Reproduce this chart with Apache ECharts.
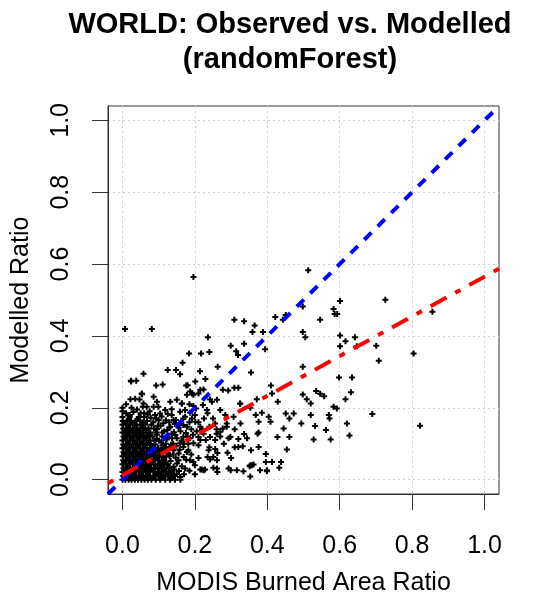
<!DOCTYPE html>
<html>
<head>
<meta charset="utf-8">
<script src="https://cdn.jsdelivr.net/npm/echarts@6/dist/echarts.min.js"></script>
<style>html,body{margin:0;padding:0;background:#fff}#c{width:541px;height:596px}</style>
</head>
<body>
<div id="c"></div>
<script>
var titleLines = ['WORLD: Observed vs. Modelled', '(randomForest)'];
var xName = 'MODIS Burned Area Ratio';
var yName = 'Modelled Ratio';
var tickValues = [0, 0.2, 0.4, 0.6, 0.8, 1.0];
var axisRange = [-0.04, 1.04];

// 1:1 reference line (blue) and fitted line (red), endpoints at plot edges
var oneToOneLine = [[-0.04, -0.04], [1.04, 1.04]];
var fitLine = [[-0.04, -0.010], [1.04, 0.587]];

// dense core of observations (observed, modelled)
var corePoints = [
[0.000,0.000],[0.008,0.000],[0.017,0.000],[0.025,0.000],[0.034,0.000],[0.043,0.000],[0.052,0.000],[0.061,0.000],[0.070,0.000],[0.080,0.000],[0.092,0.000],[0.104,0.000],[0.118,0.000],[0.131,0.000],[0.145,0.000],[0.160,0.000],
[0.002,0.010],[0.011,0.010],[0.020,0.010],[0.029,0.010],[0.038,0.010],[0.047,0.010],[0.057,0.010],[0.066,0.010],[0.076,0.010],[0.087,0.010],[0.099,0.010],[0.112,0.010],[0.126,0.010],[0.141,0.010],
[0.000,0.021],[0.009,0.021],[0.018,0.021],[0.027,0.021],[0.036,0.021],[0.046,0.021],[0.055,0.021],[0.064,0.021],[0.074,0.021],[0.085,0.021],[0.097,0.021],[0.110,0.021],[0.122,0.021],[0.137,0.021],
[0.003,0.032],[0.012,0.032],[0.021,0.032],[0.031,0.032],[0.040,0.032],[0.049,0.032],[0.059,0.032],[0.068,0.032],[0.079,0.032],[0.090,0.032],[0.102,0.032],[0.116,0.032],[0.129,0.032],
[0.000,0.043],[0.009,0.043],[0.018,0.043],[0.028,0.043],[0.037,0.043],[0.046,0.043],[0.056,0.043],[0.065,0.043],[0.075,0.043],[0.086,0.043],[0.097,0.043],[0.109,0.043],[0.124,0.043],
[0.002,0.054],[0.011,0.054],[0.021,0.054],[0.030,0.054],[0.039,0.054],[0.049,0.054],[0.058,0.054],[0.068,0.054],[0.078,0.054],[0.089,0.054],[0.101,0.054],[0.115,0.054],
[0.000,0.065],[0.009,0.065],[0.018,0.065],[0.027,0.065],[0.037,0.065],[0.046,0.065],[0.055,0.065],[0.065,0.065],[0.075,0.065],[0.085,0.065],[0.096,0.065],[0.108,0.065],[0.121,0.065],
[0.003,0.076],[0.012,0.076],[0.021,0.076],[0.031,0.076],[0.040,0.076],[0.050,0.076],[0.059,0.076],[0.069,0.076],[0.079,0.076],[0.090,0.076],[0.103,0.076],
[0.000,0.087],[0.009,0.087],[0.019,0.087],[0.028,0.087],[0.037,0.087],[0.047,0.087],[0.056,0.087],[0.066,0.087],[0.076,0.087],[0.087,0.087],[0.098,0.087],[0.112,0.087],
[0.002,0.098],[0.011,0.098],[0.020,0.098],[0.030,0.098],[0.039,0.098],[0.048,0.098],[0.058,0.098],[0.067,0.098],[0.078,0.098],[0.091,0.098],
[0.000,0.109],[0.010,0.109],[0.019,0.109],[0.028,0.109],[0.038,0.109],[0.047,0.109],[0.057,0.109],[0.066,0.109],[0.076,0.109],[0.088,0.109],[0.101,0.109],
[0.003,0.120],[0.012,0.120],[0.022,0.120],[0.031,0.120],[0.041,0.120],[0.050,0.120],[0.060,0.120],[0.070,0.120],[0.083,0.120],
[0.000,0.131],[0.009,0.131],[0.018,0.131],[0.028,0.131],[0.037,0.131],[0.046,0.131],[0.056,0.131],[0.066,0.131],[0.077,0.131],[0.093,0.131],
[0.002,0.142],[0.012,0.142],[0.021,0.142],[0.031,0.142],[0.040,0.142],[0.050,0.142],[0.061,0.142],[0.072,0.142],[0.087,0.142],
[0.000,0.153],[0.010,0.153],[0.019,0.153],[0.029,0.153],[0.039,0.153],[0.050,0.153],[0.063,0.153],[0.080,0.153],
[0.001,0.163],[0.013,0.163],[0.024,0.163],[0.036,0.163],[0.049,0.163],[0.068,0.163],
[0.000,0.174],[0.020,0.174],[0.045,0.174],[0.060,0.174],
[0.005,0.005],[0.014,0.015],[0.024,0.005],[0.033,0.015],[0.043,0.005],[0.052,0.015],[0.062,0.005],[0.071,0.015],[0.081,0.005],[0.093,0.015],
[0.005,0.027],[0.015,0.037],[0.025,0.027],[0.035,0.037],[0.044,0.027],[0.054,0.037],[0.064,0.027],[0.073,0.037],[0.083,0.027],[0.095,0.037],
[0.005,0.049],[0.015,0.059],[0.025,0.049],[0.035,0.059],[0.044,0.049],[0.054,0.059],[0.063,0.049],[0.073,0.059],[0.083,0.049],[0.094,0.060],
[0.005,0.071],[0.016,0.081],[0.026,0.071],[0.035,0.081],[0.045,0.071],[0.054,0.081],[0.064,0.071],[0.074,0.081],[0.084,0.071],[0.096,0.082],
[0.006,0.093],[0.016,0.103],[0.025,0.093],[0.035,0.103],[0.044,0.093],[0.053,0.103],[0.063,0.093],[0.072,0.103],[0.083,0.093],
[0.006,0.115],[0.016,0.125],[0.026,0.115],[0.036,0.125],[0.045,0.115],[0.055,0.125],[0.064,0.115],[0.075,0.125],
[0.006,0.136],[0.016,0.147],[0.026,0.136],[0.036,0.147],[0.045,0.136],[0.056,0.147],[0.066,0.138],
[0.006,0.158],[0.017,0.168],[0.030,0.158],[0.042,0.168],[0.056,0.160],
[0.108,0.006],[0.121,0.015],[0.135,0.004],[0.150,0.016],[0.114,0.027],[0.128,0.034],[0.143,0.028],[0.156,0.024],
[0.107,0.038],[0.119,0.046],[0.133,0.052],[0.147,0.061],[0.112,0.062],[0.126,0.074],[0.140,0.070],[0.158,0.083],
[0.106,0.083],[0.118,0.091],[0.134,0.098],[0.149,0.094],[0.107,0.104],[0.122,0.112],[0.137,0.115],[0.163,0.108],
[0.095,0.113],[0.110,0.131],[0.124,0.138],[0.142,0.132],[0.098,0.150],[0.113,0.157],[0.129,0.160],[0.155,0.145],
[0.078,0.172],[0.093,0.170],[0.108,0.176],[0.125,0.183],[0.070,0.181],[0.050,0.185],[0.030,0.188],[0.010,0.185],
[0.175,0.130],[0.185,0.160],[0.195,0.125],[0.205,0.135],[0.168,0.170],[0.182,0.100],[0.176,0.055],[0.190,0.070],
[0.200,0.040],[0.210,0.060],[0.185,0.025],[0.200,0.015],[0.170,0.015],[0.215,0.110],[0.225,0.170],[0.235,0.185]
];

// surrounding and scattered observations
var outerPoints = [
[0.007,0.419],[0.081,0.419],[0.196,0.564],[0.513,0.583],[0.601,0.497],[0.726,0.501],[0.856,0.467],
[0.309,0.445],[0.336,0.441],[0.422,0.453],[0.451,0.458],[0.443,0.445],[0.498,0.482],[0.583,0.475],
[0.586,0.461],[0.593,0.461],[0.546,0.445],[0.365,0.429],[0.359,0.411],[0.388,0.411],[0.498,0.411],
[0.505,0.396],[0.236,0.396],[0.601,0.401],[0.616,0.385],[0.601,0.371],[0.642,0.396],[0.647,0.371],
[0.701,0.373],[0.708,0.331],[0.804,0.351],[0.299,0.373],[0.336,0.378],[0.314,0.357],[0.319,0.347],
[0.394,0.363],[0.184,0.351],[0.217,0.351],[0.240,0.355],[0.166,0.325],[0.125,0.305],[0.148,0.305],
[0.159,0.293],[0.058,0.295],[0.024,0.273],[0.038,0.275],[0.093,0.262],[0.111,0.265],[0.176,0.262],
[0.214,0.302],[0.229,0.280],[0.263,0.314],[0.355,0.298],[0.498,0.314],[0.598,0.284],[0.634,0.284],
[0.410,0.262],[0.413,0.240],[0.429,0.217],[0.498,0.237],[0.509,0.224],[0.520,0.212],[0.535,0.247],
[0.546,0.239],[0.557,0.232],[0.631,0.243],[0.616,0.224],[0.583,0.203],[0.592,0.198],[0.690,0.183],
[0.822,0.150],[0.309,0.256],[0.320,0.256],[0.277,0.250],[0.292,0.248],[0.325,0.211],[0.371,0.224],
[0.353,0.200],[0.368,0.180],[0.385,0.186],[0.404,0.175],[0.409,0.161],[0.451,0.184],[0.461,0.170],
[0.473,0.184],[0.494,0.156],[0.520,0.180],[0.570,0.180],[0.572,0.170],[0.532,0.149],[0.562,0.138],
[0.620,0.156],[0.627,0.123],[0.575,0.112],[0.528,0.112],[0.461,0.119],[0.428,0.119],[0.445,0.142],
[0.454,0.084],[0.376,0.131],[0.336,0.127],[0.310,0.140],[0.320,0.113],[0.332,0.093],[0.355,0.082],
[0.396,0.071],[0.396,0.049],[0.413,0.049],[0.438,0.049],[0.433,0.033],[0.399,0.023],[0.357,0.040],
[0.351,0.037],[0.362,0.042],[0.353,0.009],[0.334,0.023],[0.316,0.026],[0.299,0.026],[0.262,0.021],
[0.251,0.033],[0.228,0.028],[0.219,0.028],[0.235,0.063],[0.242,0.056],[0.256,0.085],[0.262,0.074],
[0.293,0.115],[0.326,0.156],[0.242,0.119],[0.260,0.128],
[0.180,0.263],[0.201,0.273],[0.224,0.251],[0.192,0.240],[0.210,0.240],[0.242,0.223],[0.164,0.212],
[0.185,0.210],[0.196,0.205],[0.136,0.196],[0.159,0.189],[0.173,0.175],[0.141,0.166],[0.159,0.156],
[0.168,0.152],[0.178,0.147],[0.201,0.161],[0.215,0.147],[0.219,0.138],[0.136,0.128],[0.146,0.124],
[0.168,0.119],[0.187,0.115],[0.210,0.096],[0.159,0.101],[0.168,0.091],[0.141,0.082],[0.155,0.073],
[0.178,0.077],[0.187,0.054],[0.196,0.049],[0.150,0.045],[0.164,0.037],[0.173,0.031],[0.215,0.028],
[0.224,0.026],[0.261,0.031],[0.261,0.054],[0.293,0.031],[0.270,0.133],[0.256,0.110],[0.288,0.147],
[0.298,0.119],[0.325,0.212],[0.307,0.175],[0.320,0.091],[0.344,0.115],[0.376,0.161],[0.373,0.128],
[0.376,0.091],[0.353,0.040],[0.380,0.026],[0.399,0.026],[0.251,0.063],[0.238,0.082],[0.132,0.147],
[0.150,0.222],
[0.053,0.240],[0.047,0.223],[0.058,0.212],[0.067,0.203],[0.086,0.231],[0.095,0.217],[0.099,0.203],
[0.104,0.184],[0.118,0.194],[0.132,0.217],[0.136,0.180],[0.148,0.166],[0.164,0.212],[0.178,0.236],
[0.187,0.245],[0.196,0.236],[0.215,0.250],[0.173,0.194],[0.187,0.186],[0.192,0.170],[0.203,0.198],
[0.222,0.208],[0.233,0.194],[0.247,0.217],[0.261,0.222],[0.270,0.194],[0.284,0.180],[0.288,0.156],
[0.277,0.142],[0.256,0.156],[0.240,0.147],[0.224,0.128],[0.210,0.119],[0.196,0.101],[0.182,0.082],
[0.169,0.063],[0.155,0.054],[0.141,0.036],[0.159,0.007],[0.132,0.012],[0.113,0.007],[0.104,0.017],
[0.105,0.150],[0.115,0.135],[0.125,0.120],[0.110,0.095],[0.120,0.080],[0.130,0.065],[0.115,0.055],
[0.125,0.040],[0.135,0.025],[0.100,0.030],[0.140,0.100],[0.150,0.115],[0.160,0.135],[0.130,0.145],
[0.145,0.155],[0.120,0.165],[0.090,0.180],[0.075,0.190],[0.060,0.185],[0.040,0.195],[0.025,0.200],
[0.010,0.210],[0.035,0.225],[0.020,0.180],[0.085,0.160],[0.095,0.125],[0.105,0.070],[0.170,0.100],
[0.180,0.120],[0.190,0.140],[0.200,0.180],[0.210,0.160],[0.220,0.140],[0.230,0.110],[0.240,0.090],
[0.250,0.170],[0.260,0.140],[0.270,0.120],[0.280,0.100],[0.290,0.075],[0.300,0.060],[0.310,0.090],
[0.022,0.224],[0.054,0.238],[0.023,0.275],[0.056,0.203],[0.086,0.203],[0.000,0.190],[0.000,0.200],
[0.110,0.120],[0.095,0.140],[0.100,0.165],[0.120,0.100],[0.130,0.090],[0.105,0.045],[0.115,0.030]
];

var FONT = '"Liberation Sans", Arial, sans-serif';
var plusSymbol = 'path://M2,0H4V2H6V4H4V6H2V4H0V2H2Z';

var chart = echarts.init(document.getElementById('c'), null, {renderer: 'canvas'});

function axisCommon(nameGap, margin, rotate) {
  return {
    type: 'value',
    min: axisRange[0],
    max: axisRange[1],
    nameLocation: 'middle',
    nameGap: nameGap,
    nameTextStyle: {fontFamily: FONT, fontSize: 25, color: '#000'},
    axisLine: {show: true, onZero: false, lineStyle: {color: '#333', width: 1}},
    axisTick: {show: true, inside: false, length: 16, customValues: tickValues, lineStyle: {color: '#333', width: 1}},
    axisLabel: {show: true, customValues: tickValues, margin: margin, rotate: rotate,
      fontFamily: FONT, fontSize: 25, color: '#000',
      formatter: function (v) { return v.toFixed(1); }},
    splitLine: {show: true, lineStyle: {color: '#cfcfcf', type: [2, 3], width: 1}}
  };
}

var xAxis = axisCommon(77, 40, 0);
xAxis.name = xName;
var yAxis = axisCommon(74, 34, 90);
yAxis.name = yName;

chart.setOption({
  animation: false,
  backgroundColor: '#fff',
  title: {
    text: titleLines.join('\n'),
    left: 285, top: 2, textAlign: 'center',
    textStyle: {fontFamily: FONT, fontSize: 29, fontWeight: 'bold', color: '#000', lineHeight: 35}
  },
  grid: {left: 108, top: 106, width: 391, height: 388, show: true, borderColor: '#333', borderWidth: 1,
    containLabel: false, outerBoundsMode: 'none'},
  xAxis: xAxis,
  yAxis: yAxis,
  series: [
    {type: 'scatter', data: corePoints.concat(outerPoints), symbol: plusSymbol, symbolSize: 6,
      itemStyle: {color: '#000', opacity: 1}, silent: true, z: 2},
    {type: 'line', data: oneToOneLine, showSymbol: false, symbol: 'none', silent: true, z: 3,
      lineStyle: {color: '#0000ff', width: 4, type: [10, 9], cap: 'butt'}},
    {type: 'line', data: fitLine, showSymbol: false, symbol: 'none', silent: true, z: 4,
      lineStyle: {color: '#ff0000', width: 4, type: [6, 10, 18, 10], cap: 'butt'}}
  ]
});
</script>
</body>
</html>
